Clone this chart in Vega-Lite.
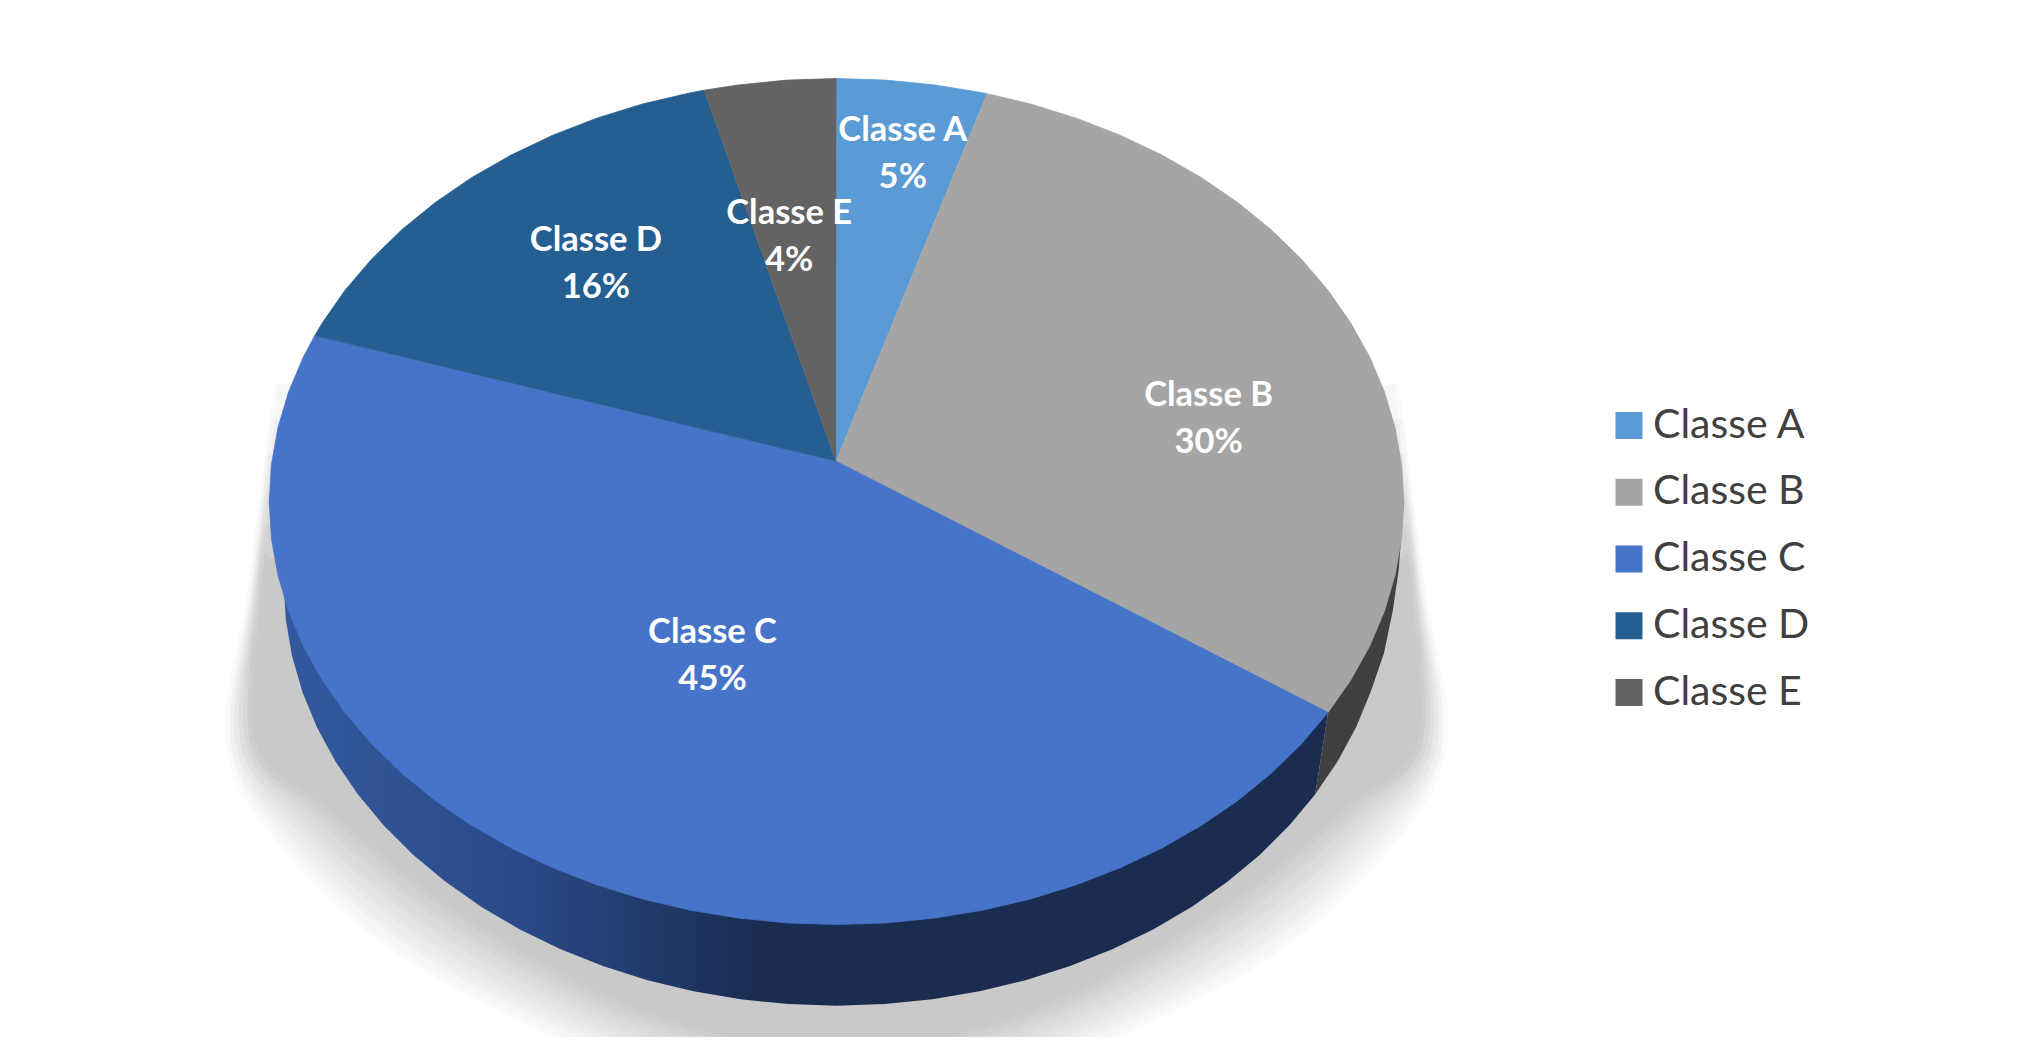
{
"$schema":"https://vega.github.io/schema/vega-lite/v6.json",
"width":2041,"height":1037,"padding":0,"autosize":{"type":"none"},"background":"white",
"view":{"stroke":null},
"config":{"font":"Lato"},
"datasets":{
"shadow":[
{"l":0,"i":1,"x":279,"y":385},{"l":0,"i":2,"x":252,"y":588},{"l":0,"i":3,"x":230,"y":744},{"l":0,"i":4,"x":281,"y":842},{"l":0,"i":5,"x":392,"y":947},{"l":0,"i":6,"x":548,"y":1032},{"l":0,"i":7,"x":679,"y":1077},{"l":0,"i":8,"x":838,"y":1097},{"l":0,"i":9,"x":998,"y":1077},{"l":0,"i":10,"x":1129,"y":1032},{"l":0,"i":11,"x":1285,"y":947},{"l":0,"i":12,"x":1396,"y":842},{"l":0,"i":13,"x":1447,"y":744},{"l":0,"i":14,"x":1425,"y":588},{"l":0,"i":15,"x":1398,"y":385},
{"l":1,"i":1,"x":275.5,"y":420},{"l":1,"i":2,"x":254,"y":588},{"l":1,"i":3,"x":235,"y":744},{"l":1,"i":4,"x":290,"y":836},{"l":1,"i":5,"x":401,"y":938},{"l":1,"i":6,"x":555,"y":1023},{"l":1,"i":7,"x":683,"y":1068},{"l":1,"i":8,"x":838,"y":1089},{"l":1,"i":9,"x":994,"y":1068},{"l":1,"i":10,"x":1122,"y":1023},{"l":1,"i":11,"x":1276,"y":938},{"l":1,"i":12,"x":1387,"y":836},{"l":1,"i":13,"x":1442,"y":744},{"l":1,"i":14,"x":1423,"y":588},{"l":1,"i":15,"x":1401.5,"y":420},
{"l":2,"i":1,"x":272.4,"y":455},{"l":2,"i":2,"x":256,"y":588},{"l":2,"i":3,"x":240,"y":744},{"l":2,"i":4,"x":299,"y":829},{"l":2,"i":5,"x":410,"y":929},{"l":2,"i":6,"x":561,"y":1014},{"l":2,"i":7,"x":687,"y":1059},{"l":2,"i":8,"x":838,"y":1081},{"l":2,"i":9,"x":990,"y":1059},{"l":2,"i":10,"x":1116,"y":1014},{"l":2,"i":11,"x":1267,"y":929},{"l":2,"i":12,"x":1378,"y":829},{"l":2,"i":13,"x":1437,"y":744},{"l":2,"i":14,"x":1421,"y":588},{"l":2,"i":15,"x":1404.6,"y":455},
{"l":3,"i":1,"x":270,"y":490},{"l":3,"i":2,"x":258,"y":588},{"l":3,"i":3,"x":245,"y":744},{"l":3,"i":4,"x":308,"y":823},{"l":3,"i":5,"x":419,"y":919},{"l":3,"i":6,"x":568,"y":1004},{"l":3,"i":7,"x":691,"y":1050},{"l":3,"i":8,"x":838,"y":1074},{"l":3,"i":9,"x":986,"y":1050},{"l":3,"i":10,"x":1109,"y":1004},{"l":3,"i":11,"x":1258,"y":919},{"l":3,"i":12,"x":1369,"y":823},{"l":3,"i":13,"x":1432,"y":744},{"l":3,"i":14,"x":1419,"y":588},{"l":3,"i":15,"x":1407,"y":490},
{"l":4,"i":1,"x":267.5,"y":525},{"l":4,"i":2,"x":260,"y":588},{"l":4,"i":3,"x":250,"y":744},{"l":4,"i":4,"x":317,"y":816},{"l":4,"i":5,"x":428,"y":910},{"l":4,"i":6,"x":574,"y":995},{"l":4,"i":7,"x":695,"y":1041},{"l":4,"i":8,"x":838,"y":1066},{"l":4,"i":9,"x":982,"y":1041},{"l":4,"i":10,"x":1103,"y":995},{"l":4,"i":11,"x":1249,"y":910},{"l":4,"i":12,"x":1360,"y":816},{"l":4,"i":13,"x":1427,"y":744},{"l":4,"i":14,"x":1417,"y":588},{"l":4,"i":15,"x":1409.5,"y":525},
{"l":5,"i":1,"x":265,"y":560},{"l":5,"i":2,"x":262,"y":588},{"l":5,"i":3,"x":255,"y":744},{"l":5,"i":4,"x":326,"y":810},{"l":5,"i":5,"x":437,"y":901},{"l":5,"i":6,"x":581,"y":986},{"l":5,"i":7,"x":699,"y":1032},{"l":5,"i":8,"x":838,"y":1058},{"l":5,"i":9,"x":978,"y":1032},{"l":5,"i":10,"x":1096,"y":986},{"l":5,"i":11,"x":1240,"y":901},{"l":5,"i":12,"x":1351,"y":810},{"l":5,"i":13,"x":1422,"y":744},{"l":5,"i":14,"x":1415,"y":588},{"l":5,"i":15,"x":1412,"y":560}],
"wallC":[
{"i":1,"x":1332,"y":714},{"i":2,"x":1319.1,"y":796.3},{"i":3,"x":1293.2,"y":827.5},{"i":4,"x":1263.6,"y":856.9},{"i":5,"x":1230.9,"y":884.2},{"i":6,"x":1195.3,"y":909.2},{"i":7,"x":1156.8,"y":931.7},{"i":8,"x":1116,"y":951.6},{"i":9,"x":1073,"y":968.7},{"i":10,"x":1028.3,"y":982.9},{"i":11,"x":982.1,"y":994},{"i":12,"x":934.8,"y":1002},{"i":13,"x":886.9,"y":1006.9},{"i":14,"x":838.5,"y":1008.5},{"i":15,"x":790.1,"y":1006.9},{"i":16,"x":742.2,"y":1002},{"i":17,"x":694.9,"y":994},{"i":18,"x":648.7,"y":982.9},{"i":19,"x":604,"y":968.7},{"i":20,"x":561,"y":951.6},{"i":21,"x":520.2,"y":931.7},{"i":22,"x":481.7,"y":909.2},{"i":23,"x":446.1,"y":884.2},{"i":24,"x":413.4,"y":856.9},{"i":25,"x":383.8,"y":827.5},{"i":26,"x":357.9,"y":796.3},{"i":27,"x":335.5,"y":763.4},{"i":28,"x":317,"y":729.2},{"i":29,"x":302.4,"y":693.9},{"i":30,"x":291.9,"y":657.7},{"i":31,"x":285.6,"y":621},{"i":32,"x":283.5,"y":584},{"i":33,"x":269,"y":502.5}],
"wallB":[
{"i":1,"x":1408,"y":502.5},{"i":2,"x":1403,"y":570},{"i":3,"x":1397,"y":612},{"i":4,"x":1388,"y":655},{"i":5,"x":1374.6,"y":693.9},{"i":6,"x":1360,"y":729.2},{"i":7,"x":1341.5,"y":763.4},{"i":8,"x":1319.1,"y":796.3},{"i":9,"x":1332,"y":714}],
"slices":[
{"c":"Classe A","i":1,"x":838,"y":462},{"c":"Classe A","i":2,"x":838.5,"y":78},{"c":"Classe A","i":3,"x":888.1,"y":79.6},{"c":"Classe A","i":4,"x":937.4,"y":84.5},{"c":"Classe A","i":5,"x":985.9,"y":92.5},{"c":"Classe A","i":6,"x":989.7,"y":93.2},
{"c":"Classe B","i":1,"x":838,"y":462},{"c":"Classe B","i":2,"x":989.7,"y":93.2},{"c":"Classe B","i":3,"x":1033.3,"y":103.6},{"c":"Classe B","i":4,"x":1079.2,"y":117.8},{"c":"Classe B","i":5,"x":1123.3,"y":134.9},{"c":"Classe B","i":6,"x":1165.2,"y":154.8},{"c":"Classe B","i":7,"x":1204.6,"y":177.3},{"c":"Classe B","i":8,"x":1241.2,"y":202.3},{"c":"Classe B","i":9,"x":1274.7,"y":229.6},{"c":"Classe B","i":10,"x":1305,"y":259},{"c":"Classe B","i":11,"x":1331.7,"y":290.2},{"c":"Classe B","i":12,"x":1354.6,"y":323.1},{"c":"Classe B","i":13,"x":1373.7,"y":357.3},{"c":"Classe B","i":14,"x":1388.6,"y":392.6},{"c":"Classe B","i":15,"x":1399.3,"y":428.8},{"c":"Classe B","i":16,"x":1405.8,"y":465.5},{"c":"Classe B","i":17,"x":1408,"y":502.5},{"c":"Classe B","i":18,"x":1405.8,"y":539.5},{"c":"Classe B","i":19,"x":1399.3,"y":576.2},{"c":"Classe B","i":20,"x":1388.6,"y":612.4},{"c":"Classe B","i":21,"x":1373.7,"y":647.7},{"c":"Classe B","i":22,"x":1354.6,"y":681.9},{"c":"Classe B","i":23,"x":1332,"y":714.2},
{"c":"Classe C","i":1,"x":838,"y":462},{"c":"Classe C","i":2,"x":1332,"y":714.2},{"c":"Classe C","i":3,"x":1305,"y":746},{"c":"Classe C","i":4,"x":1274.7,"y":775.4},{"c":"Classe C","i":5,"x":1241.2,"y":802.7},{"c":"Classe C","i":6,"x":1204.6,"y":827.7},{"c":"Classe C","i":7,"x":1165.2,"y":850.2},{"c":"Classe C","i":8,"x":1123.3,"y":870.1},{"c":"Classe C","i":9,"x":1079.2,"y":887.2},{"c":"Classe C","i":10,"x":1033.3,"y":901.4},{"c":"Classe C","i":11,"x":985.9,"y":912.5},{"c":"Classe C","i":12,"x":937.4,"y":920.5},{"c":"Classe C","i":13,"x":888.1,"y":925.4},{"c":"Classe C","i":14,"x":838.5,"y":927},{"c":"Classe C","i":15,"x":788.9,"y":925.4},{"c":"Classe C","i":16,"x":739.6,"y":920.5},{"c":"Classe C","i":17,"x":691.1,"y":912.5},{"c":"Classe C","i":18,"x":643.7,"y":901.4},{"c":"Classe C","i":19,"x":597.8,"y":887.2},{"c":"Classe C","i":20,"x":553.7,"y":870.1},{"c":"Classe C","i":21,"x":511.8,"y":850.2},{"c":"Classe C","i":22,"x":472.4,"y":827.7},{"c":"Classe C","i":23,"x":435.8,"y":802.7},{"c":"Classe C","i":24,"x":402.3,"y":775.4},{"c":"Classe C","i":25,"x":372,"y":746},{"c":"Classe C","i":26,"x":345.3,"y":714.8},{"c":"Classe C","i":27,"x":322.4,"y":681.9},{"c":"Classe C","i":28,"x":303.3,"y":647.7},{"c":"Classe C","i":29,"x":288.4,"y":612.4},{"c":"Classe C","i":30,"x":277.7,"y":576.2},{"c":"Classe C","i":31,"x":271.2,"y":539.5},{"c":"Classe C","i":32,"x":269,"y":502.5},{"c":"Classe C","i":33,"x":271.2,"y":465.5},{"c":"Classe C","i":34,"x":277.7,"y":428.8},{"c":"Classe C","i":35,"x":288.4,"y":392.6},{"c":"Classe C","i":36,"x":303.3,"y":357.3},{"c":"Classe C","i":37,"x":314.7,"y":336},
{"c":"Classe D","i":1,"x":838,"y":462},{"c":"Classe D","i":2,"x":314.7,"y":336},{"c":"Classe D","i":3,"x":322.4,"y":323.1},{"c":"Classe D","i":4,"x":345.3,"y":290.2},{"c":"Classe D","i":5,"x":372,"y":259},{"c":"Classe D","i":6,"x":402.3,"y":229.6},{"c":"Classe D","i":7,"x":435.8,"y":202.3},{"c":"Classe D","i":8,"x":472.4,"y":177.3},{"c":"Classe D","i":9,"x":511.8,"y":154.8},{"c":"Classe D","i":10,"x":553.7,"y":134.9},{"c":"Classe D","i":11,"x":597.8,"y":117.8},{"c":"Classe D","i":12,"x":643.7,"y":103.6},{"c":"Classe D","i":13,"x":691.1,"y":92.5},{"c":"Classe D","i":14,"x":705.6,"y":89.7},
{"c":"Classe E","i":1,"x":838,"y":462},{"c":"Classe E","i":2,"x":705.6,"y":89.7},{"c":"Classe E","i":3,"x":739.6,"y":84.5},{"c":"Classe E","i":4,"x":788.9,"y":79.6},{"c":"Classe E","i":5,"x":838.5,"y":78}],
"labels":[
{"label":"Classe A\n5%","x":905,"y":131},
{"label":"Classe B\n30%","x":1212,"y":397},
{"label":"Classe C\n45%","x":714,"y":634},
{"label":"Classe D\n16%","x":597,"y":241},
{"label":"Classe E\n4%","x":791,"y":214}]
},
"encoding":{
"x":{"field":"x","type":"quantitative","axis":null,"scale":{"domain":[-1.3,2047.7],"nice":false,"zero":false}},
"y":{"field":"y","type":"quantitative","axis":null,"scale":{"domain":[1039.9,-0.8],"nice":false,"zero":false}},
"order":{"field":"i","type":"quantitative"}
},
"layer":[
{"data":{"name":"shadow"},"mark":{"type":"line","interpolate":"cardinal","clip":true,"fill":"#000","stroke":"#000","strokeWidth":9,"opacity":0.0176},"encoding":{"detail":{"field":"l","type":"nominal"}}},
{"data":{"name":"shadow"},"mark":{"type":"line","interpolate":"cardinal","clip":true,"fill":"#000","strokeWidth":0,"opacity":0.0176},"encoding":{"detail":{"field":"l","type":"nominal"}}},
{"data":{"name":"wallC"},"mark":{"type":"line","strokeWidth":0,"fill":{"gradient":"linear","x1":0,"y1":0,"x2":1,"y2":0,"stops":[{"offset":0,"color":"#33599f"},{"offset":0.115,"color":"#2f5394"},{"offset":0.238,"color":"#2a4986"},{"offset":0.361,"color":"#213a6b"},{"offset":0.46,"color":"#1a2c50"},{"offset":1,"color":"#1a2c50"}]}}},
{"data":{"name":"wallB"},"mark":{"type":"line","strokeWidth":0,"fill":"#404040"}},
{"data":{"name":"slices"},"mark":{"type":"line","strokeWidth":0.8},
 "encoding":{"stroke":{"field":"c","type":"nominal","legend":null,"scale":{"domain":["Classe A","Classe B","Classe C","Classe D","Classe E"],"range":["#5b9bd5","#a5a5a5","#4674c9","#255e91","#636363"]}},
 "fill":{"field":"c","type":"nominal","scale":{"domain":["Classe A","Classe B","Classe C","Classe D","Classe E"],"range":["#5b9bd5","#a5a5a5","#4674c9","#255e91","#636363"]},
 "legend":{"title":null,"orient":"none","legendX":1608.5,"legendY":403,"symbolType":"square","symbolSize":729,"symbolStrokeWidth":0,"labelFont":"Lato","labelFontSize":41,"labelColor":"#404040","labelOffset":3.5,"rowPadding":21.75,"clipHeight":45}}}},
{"data":{"name":"labels"},"mark":{"type":"text","font":"Lato","fontWeight":"bold","fontSize":34.5,"color":"white","lineBreak":"\n","lineHeight":47,"align":"center","baseline":"middle"},
 "encoding":{"text":{"field":"label","type":"nominal"},"order":null}}
]
}
